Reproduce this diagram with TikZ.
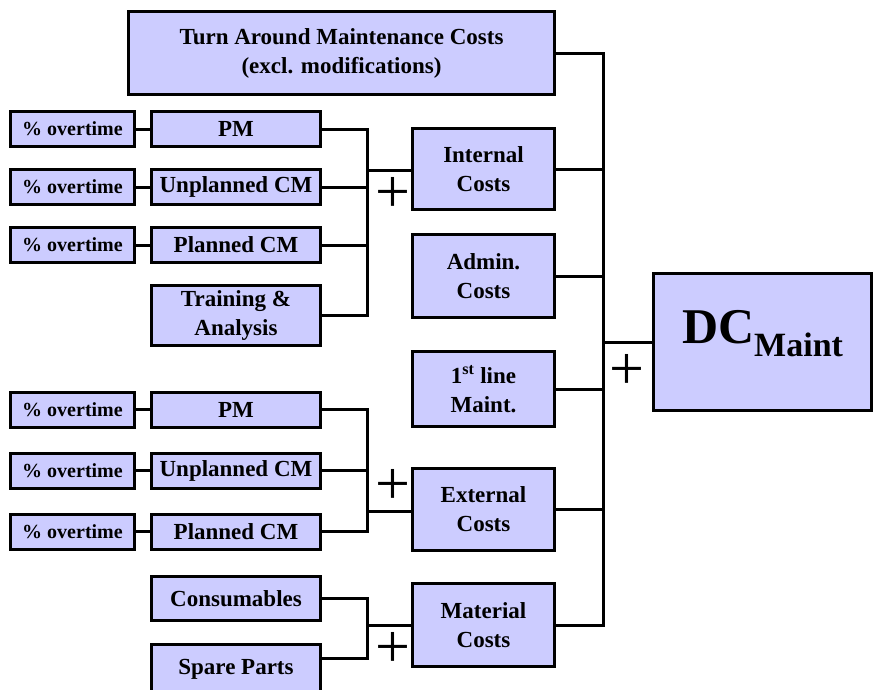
\documentclass[tikz,border=0pt]{standalone}
\usepackage{fontspec}
\setmainfont{Liberation Serif}
\usetikzlibrary{positioning}
\definecolor{boxblue}{HTML}{CCCCFF}

\begin{document}
\begin{tikzpicture}[
    x=1pt, y=-1pt,
    box/.style={rectangle, draw=black, fill=boxblue, line width=3pt, inner sep=0pt, outer sep=0pt, align=center, font=\bfseries\fontsize{23}{29}\selectfont},
    cost/.style={box, minimum width=142pt, minimum height=82pt},
    item/.style={box, minimum width=169pt, minimum height=35pt},
    ovt/.style={box, minimum width=124pt, minimum height=35pt, font=\bfseries\fontsize{20}{24}\selectfont},
    conn/.style={line width=3pt, line join=miter},
    plus/.style={inner sep=0pt, font=\fontsize{62}{62}\selectfont},
]
\useasboundingbox (0,0) rectangle (875,689);

% Top and result
\node[box, minimum width=426pt, minimum height=83pt] (ta) at (341.5,53) {Turn Around Maintenance Costs\\(excl. modifications)};
\node[box, minimum width=218pt, minimum height=137pt, text height=33pt, text depth=31pt] (dc) at (762.5,342) {\fontsize{50}{50}\selectfont DC\raisebox{-13pt}{\fontsize{34}{34}\selectfont Maint}};

% Cost blocks
\node[cost, minimum height=81pt] (internal) at (483.5,169) {Internal\\Costs};
\node[cost, minimum height=83pt] (admin) at (483.5,276) {Admin.\\Costs};
\node[cost, minimum height=75pt] (first) at (483.5,389) {1\textsuperscript{st} line\\Maint.};
\node[cost] (external) at (483.5,509.5) {External\\Costs};
\node[cost, minimum height=83pt] (material) at (483.5,625) {Material\\Costs};

% Internal items
\node[item] (pm1) at (236,129) {PM};
\node[item, below=23pt of pm1] (ucm1) {Unplanned CM};
\node[item, below=23pt of ucm1] (pcm1) {Planned CM};
\node[item, minimum height=60pt, below=23pt of pcm1] (train) {Training \&\\Analysis};
\node[ovt, left=17pt of pm1] (ovt1) {\% overtime};
\node[ovt, left=17pt of ucm1] (ovt2) {\% overtime};
\node[ovt, left=17pt of pcm1] (ovt3) {\% overtime};

% External items
\node[item] (pm2) at (236,409.5) {PM};
\node[item, below=26pt of pm2] (ucm2) {Unplanned CM};
\node[item, below=26pt of ucm2] (pcm2) {Planned CM};
\node[ovt, left=17pt of pm2] (ovt4) {\% overtime};
\node[ovt, left=17pt of ucm2] (ovt5) {\% overtime};
\node[ovt, left=17pt of pcm2] (ovt6) {\% overtime};

% Material items
\node[item, minimum height=44pt] (cons) at (236,598.5) {Consumables};
\node[item, minimum height=50pt, below=24pt of cons] (spare) {Spare Parts};

% Junctions
\coordinate (j1) at (367,170);
\coordinate (j2) at (367,511);
\coordinate (j3) at (367,625);
\coordinate (sp) at ([yshift=-14pt]spare.north east);
\coordinate (bus) at (603,342);

% Connectors
\draw[conn] (ovt1) -- (pm1);
\draw[conn] (ovt2) -- (ucm1);
\draw[conn] (ovt3) -- (pcm1);
\draw[conn] (ovt4) -- (pm2);
\draw[conn] (ovt5) -- (ucm2);
\draw[conn] (ovt6) -- (pcm2);

\draw[conn] (pm1.east) -| (train.east -| j1) -- (train.east);
\draw[conn] (ucm1.east) -- (ucm1.east -| j1);
\draw[conn] (pcm1.east) -- (pcm1.east -| j1);
\draw[conn] (j1) -- (j1 -| internal.west);

\draw[conn] (pm2.east) -| (pcm2.east -| j2) -- (pcm2.east);
\draw[conn] (ucm2.east) -- (ucm2.east -| j2);
\draw[conn] (j2) -- (j2 -| external.west);

\draw[conn] (cons.east) -| (sp -| j3) -- (sp);
\draw[conn] (j3) -- (j3 -| material.west);

\draw[conn] (ta.east) -| (material.east -| bus) -- (material.east);
\draw[conn] (internal.east) -- (internal.east -| bus);
\draw[conn] (admin.east) -- (admin.east -| bus);
\draw[conn] (first.east) -- (first.east -| bus);
\draw[conn] (external.east) -- (external.east -| bus);
\draw[conn] (bus) -- (dc.west);

% Sums
\node[plus] (sum1) at (393,195) {+};
\node[plus] (sum2) at (393,487) {+};
\node[plus] (sum3) at (393,650) {+};
\node[plus] (sum4) at (627,372) {+};

\end{tikzpicture}
\end{document}
